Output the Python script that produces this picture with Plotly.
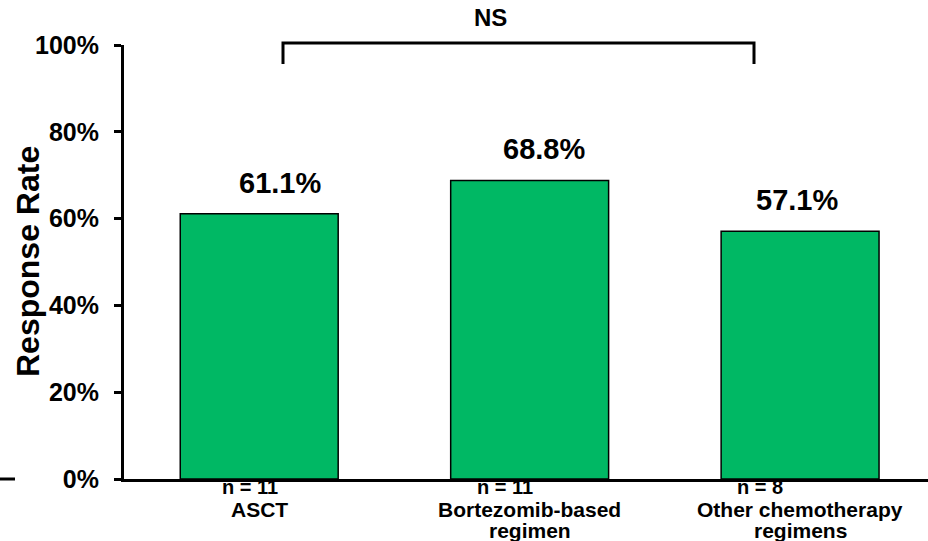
import plotly.graph_objects as go

# Response rate by treatment group
categories = ["ASCT", "Bortezomib-based<br>regimen", "Other chemotherapy<br>regimens"]
response_rate = [61.1, 68.8, 57.1]
n_patients = [11, 11, 8]
y_ticks = [0, 20, 40, 60, 80, 100]
y_tick_labels = [f"{v}%" for v in y_ticks]

W, H = 928, 541
L, R, T, B = 124, 0, 45, 62
PW, PH = W - L - R, H - T - B

def px_x(px):
    return (px - L) / PW

def px_y(py):
    return (H - B - py) / PH

BOLD = dict(family="Liberation Sans, Arial, sans-serif", color="black", weight="bold")
GREEN = "#00B864"

fig = go.Figure(
    go.Bar(
        x=categories,
        y=response_rate,
        width=0.584,
        marker=dict(color=GREEN, line=dict(color="black", width=1.5)),
        hoverinfo="skip",
    )
)

annotations = []

# value labels above bars
label_dx = [21, 14, -3]
for cat, val, dx in zip(categories, response_rate, label_dx):
    annotations.append(dict(
        x=cat, y=val, xref="x", yref="y", text=f"{val:.1f}%",
        showarrow=False, xanchor="center", yanchor="middle",
        xshift=dx, yshift=31, font=dict(size=29, **BOLD),
    ))

# group sizes and category names under the axis
n_dx = [-9, -25, -40]
for cat, n, dx in zip(categories, n_patients, n_dx):
    annotations.append(dict(
        x=cat, y=0, xref="x", yref="paper", text=f"n = {n}",
        showarrow=False, xanchor="center", yanchor="middle",
        xshift=dx, yshift=-8, font=dict(size=20, **BOLD),
    ))
    for i, line in enumerate(cat.split("<br>")):
        annotations.append(dict(
            x=cat, y=0, xref="x", yref="paper", text=line,
            showarrow=False, xanchor="center", yanchor="middle",
            yshift=-30 - 21 * i, font=dict(size=21, **BOLD),
        ))

# axis title
annotations.append(dict(
    x=px_x(28), y=px_y(262), xref="paper", yref="paper", text="Response Rate",
    textangle=-90, showarrow=False, xanchor="center", yanchor="middle",
    font=dict(size=32, **BOLD),
))

# significance marker
annotations.append(dict(
    x=px_x(490), y=px_y(18), xref="paper", yref="paper", text="NS",
    showarrow=False, xanchor="center", yanchor="middle",
    font=dict(size=24, **BOLD),
))

bx0, bx1 = px_x(283), px_x(754)
by_top, by_bot = px_y(43), px_y(64)
shapes = [
    dict(type="path", xref="paper", yref="paper",
         path=f"M {bx0} {by_bot} L {bx0} {by_top} L {bx1} {by_top} L {bx1} {by_bot}",
         line=dict(color="black", width=3)),
    dict(type="line", xref="paper", yref="paper",
         x0=px_x(0), x1=px_x(15), y0=0, y1=0,
         line=dict(color="black", width=3)),
]

fig.update_layout(
    width=W, height=H,
    margin=dict(l=L, r=R, t=T, b=B, pad=0),
    paper_bgcolor="white", plot_bgcolor="white",
    showlegend=False,
    annotations=annotations,
    shapes=shapes,
)

fig.update_xaxes(
    range=[-0.5, 2.473], showticklabels=False, ticks="",
    showline=True, linecolor="black", linewidth=3,
    showgrid=False, zeroline=False, fixedrange=True,
)

fig.update_yaxes(
    range=[0, 100], tickmode="array", tickvals=y_ticks, ticktext=y_tick_labels,
    ticks="outside", ticklen=7, tickwidth=3, tickcolor="black",
    showline=True, linecolor="black", linewidth=3,
    showgrid=False, zeroline=False,
    tickfont=dict(size=25, **BOLD), ticklabelstandoff=10,
    fixedrange=True,
)

fig.write_html("out.html")
